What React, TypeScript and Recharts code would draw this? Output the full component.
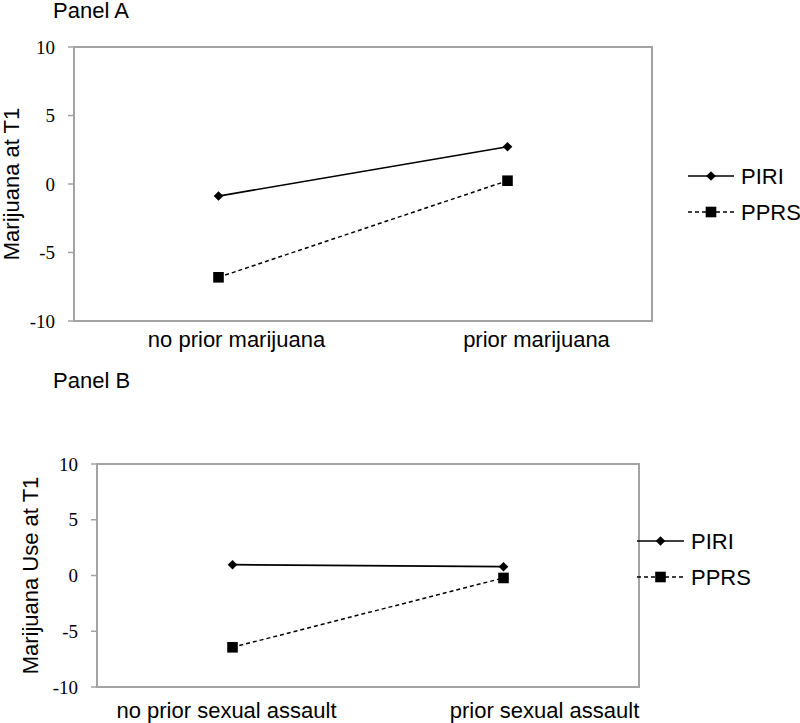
import { LineChart, Line, XAxis, YAxis, Legend, ReferenceArea } from 'recharts';

const categoriesA = ['no prior marijuana', 'prior marijuana'];
const piriA = [-0.88, 2.72];
const pprsA = [-6.81, 0.24];

const categoriesB = ['no prior sexual assault', 'prior sexual assault'];
const piriB = [0.97, 0.79];
const pprsB = [-6.44, -0.22];

const yTicks = [-10, -5, 0, 5, 10];
const seriesNames = ['PIRI', 'PPRS'];

const SANS = '"Liberation Sans", Arial, sans-serif';
const SERIF = '"Liberation Serif", "Times New Roman", serif';
const BOX = '#a3a3a3';

const buildRows = (cats: string[], piri: number[], pprs: number[]) =>
  cats.map((c, i) => ({ category: c, PIRI: piri[i], PPRS: pprs[i] }));

const Diamond = ({ cx, cy }: any) => {
  if (cx == null || cy == null) return null;
  const r = 4.8;
  return <polygon points={`${cx},${cy - r} ${cx + r},${cy} ${cx},${cy + r} ${cx - r},${cy}`} fill="#000" />;
};

const Square = ({ cx, cy }: any) => {
  if (cx == null || cy == null) return null;
  const s = 5.3;
  return <rect x={cx - s} y={cy - s} width={s * 2} height={s * 2} fill="#000" />;
};

const lineStyle: Record<string, { dash?: string; Marker: any }> = {
  PIRI: { Marker: Diamond },
  PPRS: { dash: '4 3', Marker: Square },
};

function LegendBox({ payload, lineLen }: any) {
  const items = (payload || []).filter((p: any) => seriesNames.includes(p.dataKey));
  return (
    <svg width={130} height={72}>
      {items.map((p: any, i: number) => {
        const y = 18 + i * 36;
        const st = lineStyle[p.dataKey];
        const M = st.Marker;
        return (
          <g key={p.dataKey}>
            <line x1={0} x2={lineLen} y1={y} y2={y} stroke="#000" strokeWidth={1.7} strokeDasharray={st.dash} />
            <M cx={lineLen / 2} cy={y} />
            <text x={lineLen + 7} y={y + 8} fontFamily={SANS} fontSize={22} fill="#000">
              {p.value}
            </text>
          </g>
        );
      })}
    </svg>
  );
}

interface PanelProps {
  rows: any[];
  cats: string[];
  height: number;
  top: number;
  plotTop: number;
  yAxisWidth: number;
  right: number;
  xAxisHeight: number;
  yTitle: string;
  yTitleX: number;
  labelShift: number[];
  labelDy: number;
  legendLeft: number;
  legendTop: number;
  legendLine: number;
}

function Panel(p: PanelProps) {
  const XTick = ({ x, y, payload, index }: any) => (
    <text x={x + (p.labelShift[index] || 0)} y={y + p.labelDy} textAnchor="middle" fontFamily={SANS} fontSize={22} fill="#000">
      {payload.value}
    </text>
  );
  const YTitle = ({ viewBox }: any) => {
    const cy = viewBox.y + viewBox.height / 2;
    return (
      <text x={p.yTitleX} y={cy} transform={`rotate(-90, ${p.yTitleX}, ${cy})`} textAnchor="middle" fontFamily={SANS} fontSize={22} fill="#000">
        {p.yTitle}
      </text>
    );
  };
  return (
    <div style={{ position: 'absolute', left: 0, top: p.top }}>
      <LineChart width={800} height={p.height} data={p.rows} margin={{ top: p.plotTop, right: p.right, bottom: 0, left: 0 }}>
        {/* plot-area frame */}
        <ReferenceArea
          x1={p.cats[0]}
          x2={p.cats[p.cats.length - 1]}
          y1={-10}
          y2={10}
          fill="none"
          fillOpacity={0}
          stroke={BOX}
          strokeWidth={2}
          strokeOpacity={1}
          ifOverflow="visible"
        />
        <XAxis dataKey="category" scale="band" axisLine={{ stroke: BOX, strokeWidth: 2 }} tickLine={false} tickSize={0} tickMargin={0} height={p.xAxisHeight} tick={<XTick />} interval={0} />
        <YAxis
          type="number"
          domain={[-10, 10]}
          ticks={yTicks}
          width={p.yAxisWidth}
          axisLine={{ stroke: BOX, strokeWidth: 2 }}
          tickLine={{ stroke: BOX, strokeWidth: 1.5 }}
          tickSize={6}
          tickMargin={13}
          tick={{ fontFamily: SERIF, fontSize: 19, fill: '#000' }}
          label={{ content: <YTitle /> }}
        />
        <Legend
          layout="vertical"
          align="center"
          verticalAlign="middle"
          wrapperStyle={{ left: p.legendLeft, top: p.legendTop, width: 130 }}
          content={(props: any) => <LegendBox payload={props.payload} lineLen={p.legendLine} />}
        />
        <Line dataKey="PIRI" name="PIRI" stroke="#000" strokeWidth={1.7} dot={<Diamond />} activeDot={false} isAnimationActive={false} />
        <Line dataKey="PPRS" name="PPRS" stroke="#000" strokeWidth={1.5} strokeDasharray="4 3" dot={<Square />} activeDot={false} isAnimationActive={false} />
      </LineChart>
    </div>
  );
}

export default function App() {
  const rowsA = buildRows(categoriesA, piriA, pprsA);
  const rowsB = buildRows(categoriesB, piriB, pprsB);
  return (
    <div style={{ position: 'absolute', left: 0, top: 0, width: 800, height: 723, background: '#fff', overflow: 'hidden' }}>
      <Panel
        rows={rowsA}
        cats={categoriesA}
        top={0}
        height={360}
        plotTop={47}
        yAxisWidth={74}
        right={148}
        xAxisHeight={39}
        yTitle="Marijuana at T1"
        yTitleX={19}
        labelShift={[18, 29]}
        labelDy={26}
        legendLeft={688}
        legendTop={158}
        legendLine={46}
      />
      <Panel
        rows={rowsB}
        cats={categoriesB}
        top={360}
        height={363}
        plotTop={104}
        yAxisWidth={97}
        right={161}
        xAxisHeight={36}
        yTitle="Marijuana Use at T1"
        yTitleX={38}
        labelShift={[-6, 41]}
        labelDy={31}
        legendLeft={637}
        legendTop={163}
        legendLine={47}
      />
      <svg width={800} height={723} style={{ position: 'absolute', left: 0, top: 0, pointerEvents: 'none' }}>
        <text x={53} y={18} fontFamily={SANS} fontSize={22} fill="#000">Panel A</text>
        <text x={53} y={388} fontFamily={SANS} fontSize={22} fill="#000">Panel B</text>
      </svg>
    </div>
  );
}
